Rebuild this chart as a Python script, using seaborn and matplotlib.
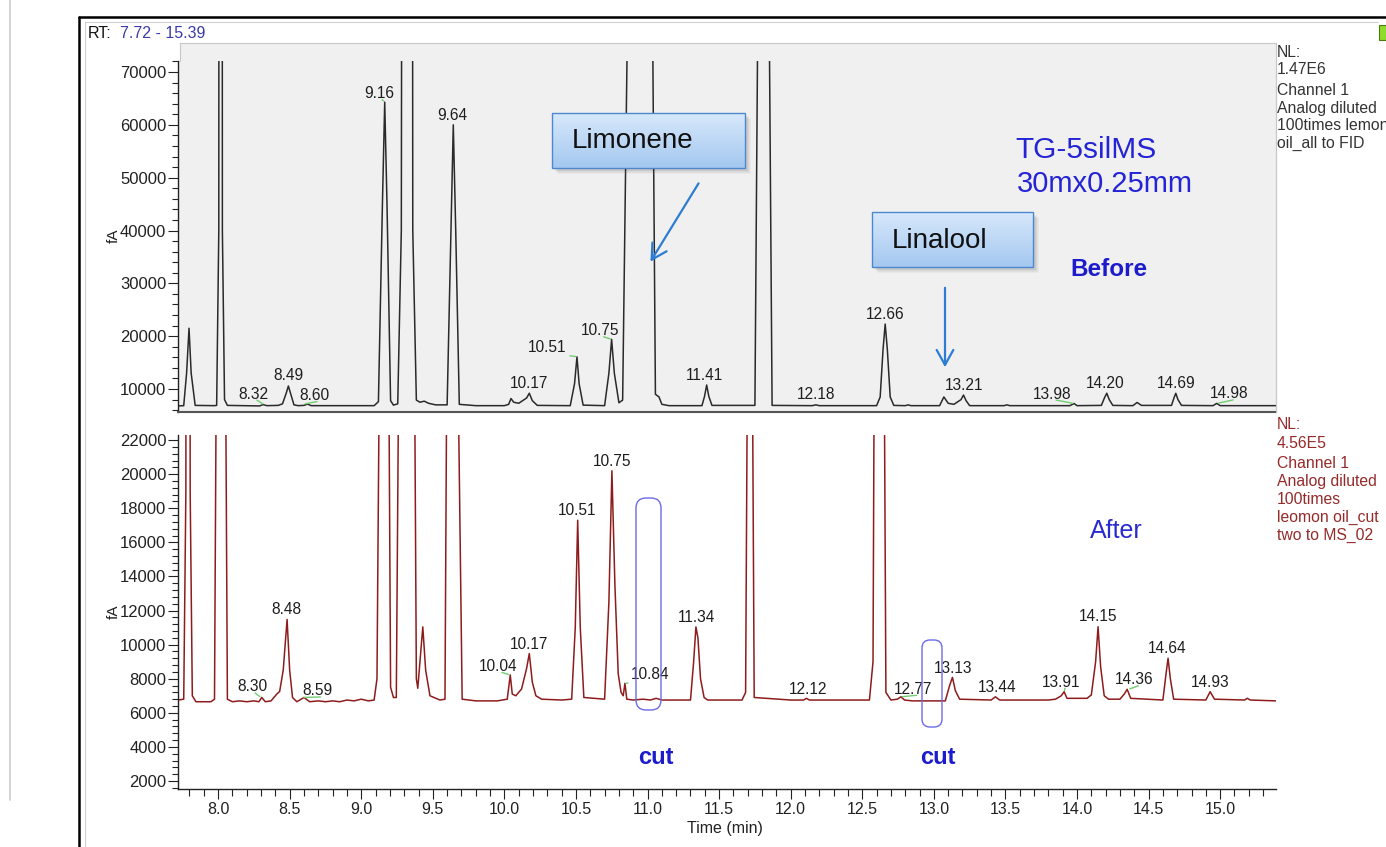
import numpy as np
import pandas as pd
import matplotlib.pyplot as plt
import seaborn as sns
from matplotlib.patches import Rectangle, FancyBboxPatch
from matplotlib.colors import LinearSegmentedColormap
from matplotlib.ticker import MultipleLocator

# --- trace "before" (FID, full oil) : retention time (min) / signal (fA)
top_rt = [7.72, 7.76, 7.78, 7.797, 7.812, 7.84, 7.975, 7.99, 8.005, 8.017, 8.03, 8.045, 8.065,
          8.29, 8.315, 8.34, 8.42, 8.45, 8.477, 8.491, 8.505, 8.53, 8.56, 8.60, 8.625, 8.65,
          9.09, 9.12, 9.148, 9.164, 9.18, 9.205, 9.225, 9.255, 9.28, 9.33, 9.36, 9.385,
          9.41, 9.44, 9.47, 9.52, 9.60, 9.627, 9.643, 9.66, 9.685, 9.80,
          10.00, 10.03, 10.046, 10.065, 10.10, 10.155, 10.174, 10.195, 10.23,
          10.46, 10.49, 10.507, 10.522, 10.55, 10.70, 10.73, 10.749, 10.768, 10.80,
          10.826, 10.86, 10.95, 11.035, 11.055, 11.08, 11.10, 11.15,
          11.38, 11.398, 11.413, 11.428, 11.45, 11.75, 11.77, 11.81, 11.85, 11.87,
          12.15, 12.176, 12.20, 12.60, 12.625, 12.645, 12.66, 12.675, 12.695, 12.72,
          12.80, 12.82, 12.84,
          13.04, 13.07, 13.10, 13.14, 13.19, 13.207, 13.225, 13.25, 13.49, 13.51, 13.53,
          13.95, 13.98, 14.00, 14.17, 14.193, 14.208, 14.225, 14.25, 14.39, 14.42, 14.45,
          14.66, 14.677, 14.69, 14.705, 14.73, 14.95, 14.976, 15.00, 15.39]
top_fa = [6800, 6850, 13000, 21500, 13000, 6900, 6850, 6900, 40000, 900000, 40000, 8000, 6900,
          6800, 7050, 6850, 6900, 7200, 9300, 10570, 9300, 7000, 6850, 6900, 7150, 6850,
          6850, 7600, 45000, 64300, 45000, 7800, 6950, 7200, 40000, 1000000, 40000, 7900,
          7500, 7700, 7300, 7000, 7000, 40000, 60000, 40000, 7100, 6850,
          6850, 7100, 8200, 7500, 7300, 8300, 9200, 7800, 6900,
          6850, 11000, 16100, 11000, 6950, 6850, 13000, 19400, 13000, 7400,
          7900, 80000, 1470000, 80000, 9000, 8500, 7100, 6850,
          6850, 8600, 10760, 8600, 6900, 6900, 80000, 900000, 80000, 6900,
          6850, 7000, 6850, 6850, 8500, 17500, 22300, 17500, 8500, 6900,
          6850, 7000, 6850,
          6850, 8500, 7300, 7100, 8000, 8860, 7800, 6850, 6850, 7000, 6850,
          6850, 7250, 6850, 6900, 8400, 9200, 8000, 6900, 6850, 7450, 6900,
          6900, 8300, 9190, 8000, 6900, 6850, 7280, 6850, 6850]

# --- trace "after" (MS, cut) : retention time (min) / signal (fA)
bot_rt = [7.72, 7.76, 7.775, 7.79, 7.805, 7.82, 7.845, 7.95, 7.975, 7.99, 8.02, 8.05, 8.065,
          8.10, 8.15, 8.20, 8.25, 8.285, 8.305, 8.33, 8.37, 8.41, 8.43, 8.455, 8.482, 8.50,
          8.52, 8.55, 8.60, 8.64, 8.70, 8.75, 8.80, 8.85, 8.90, 8.95, 9.00, 9.05, 9.09,
          9.11, 9.13, 9.16, 9.19, 9.205, 9.225, 9.245, 9.265, 9.32, 9.37, 9.385, 9.395,
          9.41, 9.43, 9.45, 9.48, 9.55, 9.585, 9.60, 9.64, 9.67, 9.705, 9.80, 9.95,
          10.02, 10.041, 10.055, 10.08, 10.12, 10.155, 10.174, 10.195, 10.22, 10.26,
          10.40, 10.47, 10.495, 10.512, 10.53, 10.555, 10.70, 10.73, 10.751, 10.772,
          10.795, 10.815, 10.83, 10.842, 10.855, 10.90, 10.97, 11.02, 11.06, 11.10,
          11.30, 11.322, 11.338, 11.352, 11.37, 11.395, 11.42, 11.66, 11.685, 11.70,
          11.715, 11.73, 11.745, 12.00, 12.09, 12.11, 12.13, 12.55, 12.575, 12.59,
          12.62, 12.645, 12.665, 12.70, 12.745, 12.77, 12.795, 12.85, 13.08, 13.11,
          13.13, 13.15, 13.18, 13.40, 13.43, 13.46, 13.80, 13.85, 13.89, 13.91, 13.93,
          14.07, 14.10, 14.13, 14.147, 14.165, 14.19, 14.22, 14.30, 14.33, 14.35, 14.375,
          14.60, 14.622, 14.636, 14.652, 14.675, 14.90, 14.93, 14.96, 15.17, 15.19,
          15.21, 15.39]
bot_fa = [6750, 6800, 19000, 200000, 19000, 7000, 6650, 6650, 6800, 30000, 400000, 30000, 6800,
          6650, 6700, 6650, 6700, 6650, 6900, 6650, 6700, 7100, 7250, 8500, 11480, 8500,
          6900, 6650, 6900, 6650, 6700, 6650, 6700, 6650, 6750, 6700, 6800, 6700, 6750,
          8000, 30000, 200000, 30000, 7500, 6900, 6900, 30000, 300000, 30000, 8000, 7440,
          9000, 11040, 8500, 7000, 6750, 6800, 30000, 200000, 30000, 6800, 6700, 6700,
          6800, 8220, 7100, 7000, 7400, 8600, 9480, 7800, 7000, 6800,
          6750, 6800, 11000, 17300, 11000, 6900, 6800, 12500, 20200, 13500,
          8300, 7200, 7000, 7730, 6800, 6750, 6800, 6750, 6850, 6750,
          6750, 9000, 11040, 10400, 8000, 6900, 6750, 6750, 7200, 30000,
          400000, 30000, 6900, 6750, 6750, 6850, 6750, 6750, 9000, 40000,
          250000, 40000, 7200, 6750, 6800, 6940, 6750, 6700, 6700, 7600,
          8080, 7300, 6800, 6750, 6940, 6750, 6750, 6800, 7000, 7240, 6850,
          6850, 7050, 9000, 11050, 8700, 7000, 6800, 6800, 7100, 7380, 6850,
          6750, 8300, 9200, 8000, 6800, 6750, 7240, 6800, 6750, 6850,
          6750, 6700]

# peak labels (text = retention time) and apex heights
top_labels = ['8.32', '8.49', '8.60', '9.16', '9.64', '10.17', '10.51', '10.75', '11.41',
              '12.18', '12.66', '13.21', '13.98', '14.20', '14.69', '14.98']
top_label_fa = [7050, 10570, 7150, 64300, 60000, 9200, 16100, 19400, 10760,
                7000, 22300, 8860, 7250, 9200, 9190, 7280]
top_green = [1, 0, 1, 1, 0, 0, 1, 1, 0, 0, 0, 0, 1, 0, 0, 1]

bot_labels = ['8.30', '8.48', '8.59', '10.04', '10.17', '10.51', '10.75', '10.84', '11.34',
              '12.12', '12.77', '13.13', '13.44', '13.91', '14.15', '14.36', '14.64', '14.93']
bot_label_fa = [6900, 11480, 6900, 8220, 9480, 17300, 20200, 7730, 11040,
                6850, 6940, 8080, 6940, 7240, 11050, 7380, 9200, 7240]
bot_green = [1, 0, 1, 1, 0, 0, 0, 1, 0, 0, 1, 0, 0, 1, 0, 1, 0, 0]

top_info = ['NL:', '1.47E6', 'Channel 1', 'Analog diluted', '100times lemon', 'oil_all to FID']
bot_info = ['NL:', '4.56E5', 'Channel 1', 'Analog diluted', '100times', 'leomon oil_cut', 'two to MS_02']

# label offsets in pixels (dx, dy to the label centre)
top_dx = [-10, 0, 10, -5, -1, 0, -30, -12, -2, 0, 0, 0, -22, 0, 0, 12]
top_dy = [12, 12, 10, 10, 11, 11, 11, 10, 11, 12, 11, 11, 11, 11, 11, 11]
bot_dx = [-9, 0, 15, -12, 0, 0, 0, 26, 0, 0, 12, 1, 0, -3, 0, 6, -1, 0]
bot_dy = [12, 11, 8, 10, 11, 11, 11, 10, 11, 10, 9, 10, 11, 11, 12, 11, 11, 11]

sns.set_theme(style='ticks')
plt.rcParams['font.family'] = ['Liberation Sans', 'DejaVu Sans']

W, H = 1386, 847
fig = plt.figure(figsize=(W / 100, H / 100), dpi=100)
fig.patch.set_facecolor('white')


def box(x0, y0, x1, y1):
    return [x0 / W, 1 - y1 / H, (x1 - x0) / W, (y1 - y0) / H]


ax1 = fig.add_axes(box(178, 61, 1276, 412))
ax2 = fig.add_axes(box(178, 435, 1276, 789))

top = pd.DataFrame({'rt': top_rt, 'fA': top_fa})
bot = pd.DataFrame({'rt': bot_rt, 'fA': bot_fa})
sns.lineplot(data=top, x='rt', y='fA', ax=ax1, color='#2a2a2a', lw=1.1,
             sort=False, estimator=None)
sns.lineplot(data=bot, x='rt', y='fA', ax=ax2, color='#8e1c1c', lw=1.1,
             sort=False, estimator=None)

ax1.set_facecolor('#f0f0f0')
ax1.set_xlim(7.72, 15.39)
ax1.set_ylim(5650, 72080)
ax1.yaxis.set_major_locator(MultipleLocator(10000))
ax1.yaxis.set_minor_locator(MultipleLocator(2000))
ax1.tick_params(axis='x', which='both', bottom=False, labelbottom=False)
for s in ['top', 'right']:
    ax1.spines[s].set_color('#c8c8c8')
    ax1.spines[s].set_linewidth(0.8)
ax1.spines['top'].set_visible(False)
ax1.spines['left'].set_color('#222222')
ax1.spines['bottom'].set_color('#555555')
ax1.spines['bottom'].set_linewidth(1.5)

ax2.set_facecolor('white')
ax2.set_xlim(7.72, 15.39)
ax2.set_ylim(1530, 22300)
ax2.yaxis.set_major_locator(MultipleLocator(2000))
ax2.yaxis.set_minor_locator(MultipleLocator(400))
ax2.xaxis.set_major_locator(MultipleLocator(0.5))
ax2.xaxis.set_minor_locator(MultipleLocator(0.1))
ax2.spines['top'].set_visible(False)
ax2.spines['right'].set_visible(False)
for s in ['left', 'bottom']:
    ax2.spines[s].set_color('#222222')

for ax in (ax1, ax2):
    ax.set_xlabel('')
    ax.set_ylabel('')
    ax.spines['left'].set_linewidth(1.0)
    ax.tick_params(axis='y', which='major', direction='out', length=7, width=0.8,
                   labelsize=12, pad=1.5, colors='#222222', left=True)
    ax.tick_params(axis='y', which='minor', direction='out', length=4.5, width=0.8,
                   colors='#222222', left=True)
ax2.spines['bottom'].set_linewidth(1.0)
ax2.tick_params(axis='x', which='major', direction='out', length=7, width=0.8,
                labelsize=11.5, pad=2, colors='#222222', bottom=True)
ax2.tick_params(axis='x', which='minor', direction='out', length=5, width=0.8,
                colors='#222222', bottom=True)


def peak_labels(ax, labels, fas, dxs, dys, greens):
    for lab, fa, dx, dy, g in zip(labels, fas, dxs, dys, greens):
        arrow = None
        if g:
            arrow = dict(arrowstyle='-', color='#6fcf6f', lw=1.0, shrinkA=0, shrinkB=1,
                         relpos=(0.6, 0.1))
        ax.annotate(lab, xy=(float(lab), fa), xytext=(dx, dy - 6), textcoords='offset pixels',
                    ha='center', va='baseline', fontsize=11.2, color='#1e1e1e',
                    arrowprops=arrow, annotation_clip=False)


peak_labels(ax1, top_labels, top_label_fa, top_dx, top_dy, top_green)
peak_labels(ax2, bot_labels, bot_label_fa, bot_dx, bot_dy, bot_green)

# overlay in pixel coordinates for the screenshot frame and callouts
ov = fig.add_axes([0, 0, 1, 1], zorder=10)
ov.axis('off')

ov.plot([79, 79], [17, H], color='black', lw=1.8)
ov.plot([79, W], [17, 17], color='black', lw=1.8)
ov.plot([85, 85], [22, H], color='#cfcfcf', lw=0.8)
ov.plot([85, 1378], [22, 22], color='#cfcfcf', lw=0.8)
ov.plot([10, 10], [0, 800], color='#d4d4d4', lw=1.4)
ov.add_patch(Rectangle((1379, 25), 8, 15, fc='#8fdc2a', ec='#4a7a10', lw=0.8))

# grey header strip of the upper panel
ov.add_patch(Rectangle((180, 43), 1096, 18.5, fc='#f0f0f0', ec='none', zorder=1))
ov.plot([180, 1276], [43, 43], color='#c8c8c8', lw=0.8)
ov.plot([180, 180], [43, 61], color='#c8c8c8', lw=0.8)
ov.plot([1276, 1276], [43, 412], color='#c8c8c8', lw=0.8)

ov.text(88, 33, 'RT:', fontsize=11.5, color='#111111', va='center')
ov.text(120, 33, '7.72 - 15.39', fontsize=11.5, color='#3a3aa8', va='center')

for txt, yb in zip(top_info, [57, 74, 95, 113, 130, 148]):
    ov.text(1277, yb, txt, fontsize=11.3, color='#333333', va='baseline')
for txt, yb in zip(bot_info, [429, 448, 468, 486, 504, 522, 540]):
    ov.text(1277, yb, txt, fontsize=11.3, color='#962a2a', va='baseline')

ov.text(114, 236, 'fA', fontsize=11, rotation=90, ha='center', va='center', color='#222222')
ov.text(114, 612, 'fA', fontsize=11, rotation=90, ha='center', va='center', color='#222222')
ov.text(725, 829, 'Time (min)', fontsize=11.5, ha='center', va='center', color='#222222')

grad = np.linspace(0, 1, 64).reshape(-1, 1)
cmap = LinearSegmentedColormap.from_list('callout', ['#d7e8fb', '#a4c8f0'])
for (x0, y0, x1, y1), name in [((552, 113, 745, 168), 'Limonene'),
                               ((872, 212, 1033, 267), 'Linalool')]:
    ov.add_patch(Rectangle((x0 + 5, y0 + 5), x1 - x0, y1 - y0, fc='black', alpha=0.07, zorder=2))
    ov.add_patch(Rectangle((x0 + 3, y0 + 3), x1 - x0, y1 - y0, fc='black', alpha=0.10, zorder=2))
    ov.imshow(grad, extent=(x0, x1, y1, y0), cmap=cmap, aspect='auto', zorder=3)
    ov.add_patch(Rectangle((x0, y0), x1 - x0, y1 - y0, fill=False, ec='#4d88cf', lw=1.0, zorder=4))
    ov.text(x0 + 20, (y0 + y1) / 2 + 1, name, fontsize=20, color='#111111',
            va='center', ha='left', zorder=5)

arrow_kw = dict(arrowstyle='->,head_length=0.9,head_width=0.5', color='#2d7dd2', lw=1.6)
ov.annotate('', xy=(649, 264), xytext=(700, 181), arrowprops=arrow_kw)
ov.annotate('', xy=(945, 370), xytext=(945, 285), arrowprops=arrow_kw)

ov.text(1015, 150, 'TG-5silMS', fontsize=21.5, color='#2424d6', va='center')
ov.text(1017, 184, '30mx0.25mm', fontsize=21, color='#2424d6', va='center')
ov.text(1070, 270, 'Before', fontsize=17.5, fontweight='bold', color='#1c1ccc', va='center')
ov.text(1090, 531, 'After', fontsize=18, color='#2a2ad0', va='center')
ov.text(656, 758, 'cut', fontsize=17, fontweight='bold', color='#1c1ccc', ha='center', va='center')
ov.text(938, 758, 'cut', fontsize=17, fontweight='bold', color='#1c1ccc', ha='center', va='center')

ov.add_patch(FancyBboxPatch((636, 498), 25, 212, boxstyle='round,pad=0,rounding_size=10',
                            fill=False, ec='#6b6be8', lw=1.0))
ov.add_patch(FancyBboxPatch((922, 640), 20, 87, boxstyle='round,pad=0,rounding_size=8',
                            fill=False, ec='#6b6be8', lw=1.0))

ov.set_xlim(0, W)
ov.set_ylim(H, 0)

fig.savefig('out.png', dpi=100, facecolor='white')
